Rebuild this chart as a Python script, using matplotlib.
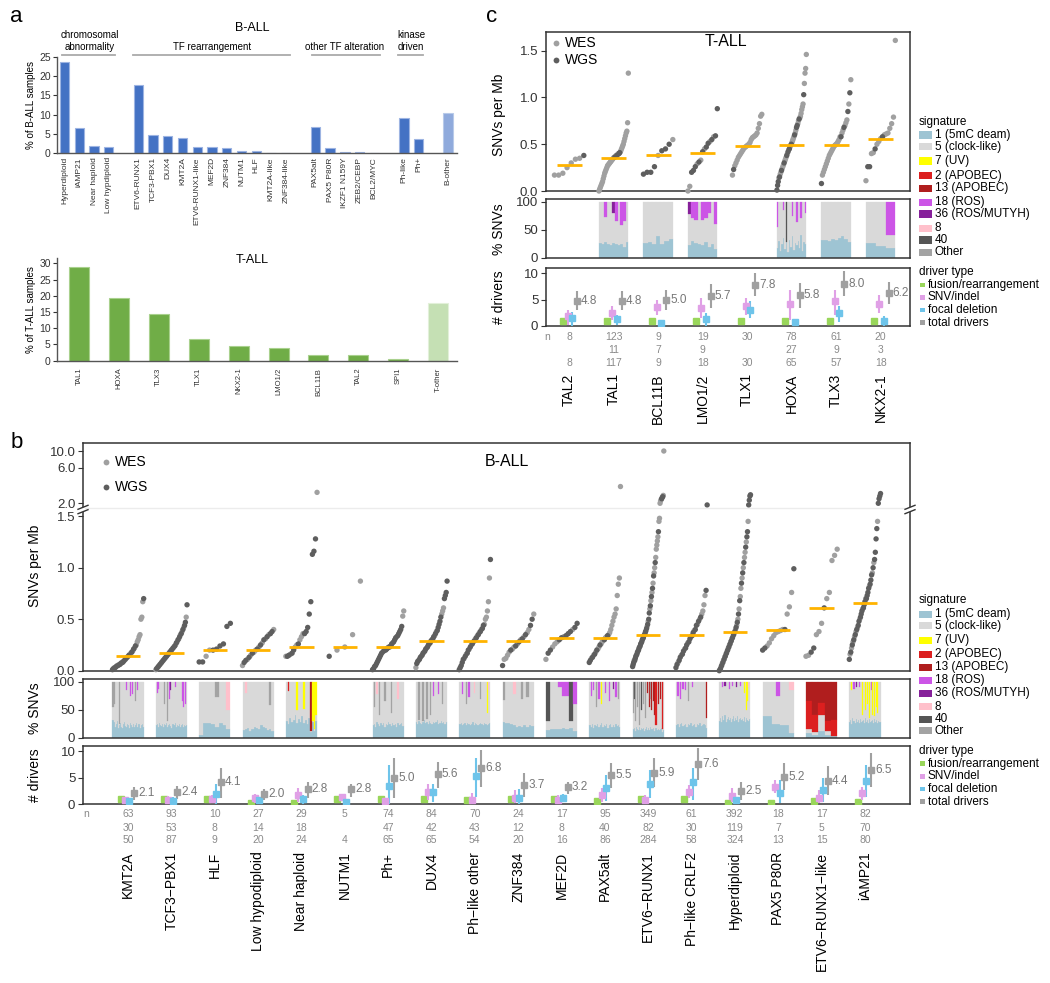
import numpy as np
import matplotlib
matplotlib.use("Agg")
import matplotlib.pyplot as plt
from matplotlib.lines import Line2D
from matplotlib.patches import Rectangle
from matplotlib.ticker import NullLocator

plt.rcParams['font.family'] = ['Liberation Sans', 'DejaVu Sans']
plt.rcParams['axes.linewidth'] = 1.0
plt.rcParams['axes.edgecolor'] = '#333333'
plt.rcParams['xtick.color'] = '#333333'
plt.rcParams['ytick.color'] = '#333333'

# ---------------- DATA: panel a ----------------
ball_subtypes = ['Hyperdiploid', 'iAMP21', 'Near haploid', 'Low hypdiploid',
                 'ETV6-RUNX1', 'TCF3-PBX1', 'DUX4', 'KMT2A', 'ETV6-RUNX1-like', 'MEF2D',
                 'ZNF384', 'NUTM1', 'HLF', 'KMT2A-like', 'ZNF384-like',
                 'PAX5alt', 'PAX5 P80R', 'IKZF1 N159Y', 'ZEB2/CEBP', 'BCL2/MYC',
                 'Ph-like', 'Ph+', 'B-other']
ball_pct = [23.6, 6.4, 1.9, 1.6,
            17.8, 4.8, 4.4, 3.8, 1.65, 1.6, 1.4, 0.6, 0.45, 0.05, 0.05,
            6.9, 1.2, 0.25, 0.25, 0.1,
            9.1, 3.7, 10.3]
ball_group_sizes = [4, 11, 5, 2, 1]
ball_groups = ['chromosomal\nabnormality', 'TF rearrangement', 'other TF alteration', 'kinase\ndriven']

tall_subtypes = ['TAL1', 'HOXA', 'TLX3', 'TLX1', 'NKX2-1', 'LMO1/2', 'BCL11B', 'TAL2', 'SPI1', 'T-other']
tall_pct = [29.0, 19.4, 14.3, 6.6, 4.6, 4.0, 1.85, 1.65, 0.4, 17.7]

# ---------------- DATA: panel b (B-ALL) ----------------
b_names = ['KMT2A', 'TCF3\u2212PBX1', 'HLF', 'Low hypodiploid', 'Near haploid', 'NUTM1', 'Ph+',
           'DUX4', 'Ph\u2212like other', 'ZNF384', 'MEF2D', 'PAX5alt', 'ETV6\u2212RUNX1',
           'Ph\u2212like CRLF2', 'Hyperdiploid', 'PAX5 P80R', 'ETV6\u2212RUNX1\u2212like', 'iAMP21']
b_n_total = ['63', '93', '10', '27', '29', '5', '74', '84', '70', '24', '17', '95', '349', '61', '392', '18', '17', '82']
b_n_wgs = ['30', '53', '8', '14', '18', '', '47', '42', '43', '12', '8', '40', '82', '30', '119', '7', '5', '70']
b_n_drv = ['50', '87', '9', '20', '24', '4', '65', '65', '54', '20', '16', '86', '284', '58', '324', '13', '15', '80']
b_median = [0.14, 0.17, 0.20, 0.20, 0.23, 0.23, 0.23, 0.29, 0.29, 0.29, 0.32, 0.32, 0.35, 0.35, 0.38, 0.40, 0.61, 0.66]

b_wes = [
    [0.03, 0.05, 0.06, 0.08, 0.10, 0.12, 0.14, 0.16, 0.17, 0.19, 0.22, 0.25, 0.28, 0.30, 0.33, 0.35, 0.50, 0.52, 0.67],
    [0.01, 0.03, 0.05, 0.07, 0.09, 0.11, 0.13, 0.15, 0.17, 0.19, 0.21, 0.23, 0.25, 0.28, 0.31, 0.35, 0.38, 0.42, 0.52],
    [0.14, 0.20],
    [0.05, 0.11, 0.15, 0.18, 0.20, 0.23, 0.27, 0.31, 0.35, 0.40],
    [0.14, 0.16, 0.23, 0.25, 0.30, 0.33, 0.36, 2.8],
    [0.20, 0.23, 0.35, 0.87],
    [0.18, 0.20, 0.23, 0.27, 0.33, 0.53, 0.58],
    [0.03, 0.10, 0.14, 0.18, 0.22, 0.26, 0.30, 0.34, 0.38, 0.55, 0.58, 0.61],
    [0.12, 0.16, 0.21, 0.25, 0.28, 0.31, 0.34, 0.37, 0.40, 0.45, 0.50, 0.52, 0.58, 0.67, 0.90],
    [0.11, 0.12, 0.15, 0.18, 0.21, 0.23, 0.26, 0.30, 0.33, 0.37, 0.40, 0.55],
    [0.11, 0.23, 0.26, 0.28, 0.33, 0.40],
    [0.12, 0.15, 0.18, 0.21, 0.23, 0.26, 0.28, 0.30, 0.32, 0.33, 0.35, 0.37, 0.40, 0.44, 0.48, 0.52, 0.55, 0.60, 0.73, 0.84, 0.90, 3.35],
    [0.10, 0.15, 0.19, 0.23, 0.27, 0.31, 0.35, 0.39, 0.43, 0.48, 0.60, 0.68, 0.76, 0.85, 0.95, 1.00, 1.10, 1.18, 1.22, 1.26, 1.30, 1.45, 1.48, 2.0, 2.15, 2.25, 2.4, 2.55, 10.0],
    [0.08, 0.15, 0.21, 0.27, 0.33, 0.39, 0.45, 0.50, 0.55, 0.58, 0.64, 0.73],
    [0.01, 0.04, 0.07, 0.10, 0.13, 0.16, 0.19, 0.22, 0.25, 0.28, 0.31, 0.34, 0.37, 0.40, 0.44, 0.50, 0.60, 0.72, 0.80, 0.90, 1.00, 1.10, 1.15, 1.25, 1.45],
    [0.24, 0.27, 0.31, 0.34, 0.37, 0.38, 0.39, 0.40, 0.55, 0.62, 0.76],
    [0.14, 0.15, 0.35, 0.38, 0.46, 0.70, 0.76, 1.07, 1.12, 1.18],
    [0.16, 0.22, 0.28, 0.33, 0.38, 0.42, 0.50, 0.60, 0.70, 0.82, 0.95, 1.05, 1.45],
]
b_wgs = [
    [0.01, 0.02, 0.03, 0.04, 0.05, 0.06, 0.07, 0.08, 0.09, 0.11, 0.13, 0.15, 0.18, 0.21, 0.24, 0.70],
    [0.02, 0.04, 0.06, 0.08, 0.10, 0.12, 0.14, 0.16, 0.18, 0.20, 0.22, 0.24, 0.27, 0.30, 0.33, 0.36, 0.40, 0.44, 0.47, 0.64],
    [0.085, 0.085, 0.20, 0.21, 0.24, 0.26, 0.43, 0.46],
    [0.08, 0.10, 0.13, 0.17, 0.21, 0.25, 0.30, 0.33, 0.36, 0.38],
    [0.14, 0.15, 0.17, 0.20, 0.26, 0.36, 0.38, 0.42, 0.55, 0.67, 1.13, 1.16, 1.28],
    [0.14],
    [0.01, 0.02, 0.04, 0.05, 0.07, 0.09, 0.11, 0.13, 0.15, 0.17, 0.19, 0.20, 0.21, 0.22, 0.23, 0.24, 0.26, 0.28, 0.30, 0.32, 0.34, 0.36, 0.38, 0.40, 0.43],
    [0.07, 0.09, 0.11, 0.13, 0.15, 0.17, 0.19, 0.21, 0.23, 0.25, 0.27, 0.29, 0.31, 0.33, 0.36, 0.39, 0.42, 0.45, 0.48, 0.52, 0.70, 0.73, 0.76, 0.87],
    [0.01, 0.03, 0.05, 0.08, 0.11, 0.14, 0.17, 0.20, 0.23, 0.26, 0.29, 0.32, 0.35, 0.38, 0.41, 0.44, 1.08],
    [0.05, 0.20, 0.24, 0.28, 0.31, 0.35, 0.44, 0.50],
    [0.17, 0.20, 0.30, 0.32, 0.34, 0.36, 0.38, 0.42, 0.46],
    [0.08, 0.10, 0.13, 0.16, 0.20, 0.25, 0.30, 0.34],
    [0.04, 0.06, 0.08, 0.10, 0.12, 0.14, 0.16, 0.18, 0.20, 0.22, 0.24, 0.26, 0.28, 0.30, 0.32, 0.34, 0.36, 0.38, 0.41, 0.45, 0.50, 0.56, 0.63, 0.72, 0.80, 0.92, 1.05, 1.35, 2.3, 2.45],
    [0.03, 0.06, 0.10, 0.13, 0.16, 0.19, 0.22, 0.25, 0.28, 0.31, 0.34, 0.37, 0.40, 0.44, 0.48, 0.52, 0.78, 1.9],
    [0.00, 0.02, 0.05, 0.08, 0.11, 0.14, 0.17, 0.20, 0.23, 0.26, 0.29, 0.32, 0.35, 0.38, 0.42, 0.47, 0.55, 0.68, 0.85, 0.95, 1.05, 1.20, 1.30, 1.35, 1.9, 2.2, 2.5, 2.6],
    [0.20, 0.22, 0.40, 0.99],
    [0.18, 0.22, 0.61],
    [0.11, 0.18, 0.25, 0.30, 0.35, 0.40, 0.44, 0.48, 0.52, 0.55, 0.58, 0.61, 0.64, 0.67, 0.70, 0.73, 0.76, 0.80, 0.84, 0.88, 0.93, 1.00, 1.08, 1.15, 1.28, 1.38, 2.0, 2.3, 2.5, 2.7],
]

# signature 1 (5mC deamination) share per WGS sample bar; other signatures listed as (bar, signature, %)
b_sig1 = [
    [32, 28, 20, 24, 30, 18, 22, 26, 20, 17, 24, 28, 21, 19, 25, 22, 18, 26, 23, 20, 24, 19, 22, 27, 20, 24, 18, 22, 25, 20],
    [22, 24, 20, 26, 23, 21, 25, 19, 24, 22, 27, 20, 23, 25, 21, 18, 24, 22, 26, 20, 23, 21, 25, 19, 22, 24, 20, 23, 21, 22],
    [5, 26, 27, 25, 20, 26, 22, 15],
    [14, 15, 18, 12, 16, 20, 18, 15, 22, 19, 17, 14, 16, 12],
    [30, 25, 35, 28, 32, 40, 27, 33, 29, 38, 26, 31, 24, 36, 10, 28, 12, 30],
    [],
    [22, 25, 20, 28, 24, 21, 26, 23, 27, 20, 25, 22, 28, 24, 21, 26, 23, 25, 20, 27, 22, 24, 26, 21],
    [28, 25, 30, 27, 24, 29, 31, 26, 28, 25, 30, 27, 24, 29, 26, 28, 31, 25, 27, 30, 26, 28, 24, 29],
    [24, 26, 22, 25, 27, 23, 26, 24, 22, 25, 28, 23, 26, 24, 22, 25, 27, 24, 23, 26, 25, 22, 24, 26],
    [28, 27, 26, 24, 22, 20, 21, 19, 22, 20, 23, 21],
    [14, 15, 16, 15, 17, 16, 18, 12],
    [22, 20, 25, 18, 23, 21, 24, 19, 22, 26, 20, 23, 21, 25, 18, 22, 24, 20, 23, 19, 25, 21, 22, 20],
    [15, 18, 12, 20, 16, 14, 19, 13, 17, 15, 18, 12, 16, 20, 14, 17, 13, 19, 15, 16, 18, 12, 17, 14, 16, 13, 15, 18, 11, 14],
    [22, 25, 20, 24, 26, 21, 23, 25, 20, 24, 22, 26, 21, 23, 25, 20, 24, 22, 26, 21, 23, 25, 22, 18],
    [30, 35, 28, 38, 32, 40, 29, 34, 37, 31, 36, 28, 33, 39, 30, 35, 32, 38, 29, 34, 36, 31, 33, 30, 37, 28, 35, 32, 30, 34],
    [38, 38, 25, 24, 22, 22, 8],
    [8, 5, 12, 5, 3],
    [28, 32, 25, 35, 30, 27, 33, 29, 31, 26, 34, 28, 30, 32, 27, 35, 29, 31, 26, 33, 28, 30, 32, 27, 34, 29, 31, 26, 30, 28],
]
b_sig_other = [
    [(0, 'Other', 45), (1, 'Other', 40), (6, 'Other', 75), (13, '18', 15), (17, '18', 25), (19, '18', 22), (22, 'Other', 35), (24, '18', 15)],
    [(1, '18', 20), (2, '18', 12), (8, 'Other', 40), (11, 'Other', 70), (13, '18', 30), (14, '36', 15), (18, '18', 10), (25, '18', 35), (26, '18', 45), (28, '18', 40)],
    [(4, 'Other', 28), (7, '8', 50)],
    [(1, '8', 20), (12, 'Other', 42)],
    [(1, '2', 17), (6, '7', 50), (10, '7', 48), (14, '13', 88), (15, '7', 70), (16, '7', 85), (17, '7', 60)],
    [],
    [(1, 'Other', 45), (3, '8', 22), (5, 'Other', 60), (9, 'Other', 35), (14, 'Other', 55), (19, '8', 30)],
    [(2, 'Other', 68), (5, 'Other', 70), (8, 'Other', 66), (11, 'Other', 60), (13, '18', 25), (17, '18', 22), (20, 'Other', 40)],
    [(2, '18', 22), (5, 'Other', 40), (7, '18', 28), (11, '8', 20), (16, 'Other', 30), (21, '7', 55), (22, '8', 15)],
    [(0, 'Other', 32), (4, '8', 22), (7, 'Other', 30), (9, 'Other', 28)],
    [(0, '40', 70), (3, '18', 10), (4, '18', 26), (5, '18', 26), (6, '40', 70), (7, '18', 40)],
    [(1, '18', 25), (3, '18', 15), (5, 'Other', 45), (7, '18', 30), (9, '7', 40), (12, '18', 20), (15, '18', 35), (18, '36', 12), (20, '18', 28), (22, 'Other', 30)],
    [(0, 'Other', 55), (1, '40', 30), (2, 'Other', 70), (4, 'Other', 45), (6, 'Other', 78), (8, '40', 50), (10, 'Other', 40), (12, 'Other', 65),
     (14, '13', 20), (16, '13', 45), (17, 'Other', 30), (18, '13', 50), (20, '13', 35), (21, '13', 60), (22, '2', 78), (24, '13', 40), (26, '13', 30), (28, '2', 85)],
    [(1, '18', 25), (3, '18', 30), (5, '18', 12), (7, '18', 15), (9, 'Other', 35), (12, '18', 10), (23, '13', 65)],
    [(3, '18', 10), (5, '36', 8), (9, '18', 12), (12, '18', 8), (16, '36', 10), (20, '18', 8), (24, '7', 20), (26, '7', 50), (27, '7', 35), (28, '8', 10)],
    [(3, '18', 26), (6, '8', 15)],
    [(0, '13', 35), (0, '2', 50), (1, '13', 60), (1, '2', 30), (2, '13', 38), (2, '2', 22), (3, '13', 70), (3, '2', 18), (4, '13', 68), (4, '2', 29)],
    [(2, '7', 15), (4, '18', 12), (6, '36', 10), (9, '18', 10), (12, '7', 60), (15, '7', 50), (17, '7', 40), (19, '7', 65), (21, '18', 15),
     (22, '7', 60), (24, '7', 62), (26, '7', 45), (27, '7', 55)],
]

b_fus = [0.95, 0.95, 0.95, 0.2, 0.2, 0.95, 0.95, 0.95, 0.8, 0.95, 1.0, 0.7, 0.95, 1.0, 0.2, 0.2, 0.7, 0.4]
b_snv = [0.8, 0.9, 1.0, 1.1, 1.7, 1.4, 0.6, 2.4, 0.9, 1.25, 0.9, 1.8, 0.8, 2.4, 1.6, 3.3, 1.25, 2.1]
b_snv_lo = [0.2, 0.3, 0.2, 0.3, 0.5, 0.8, 0.0, 0.8, 0.0, 0.2, 0.2, 0.5, 0.0, 1.1, 0.5, 2.1, 0.2, 0.8]
b_snv_hi = [1.4, 1.5, 1.8, 1.9, 3.0, 2.0, 1.1, 3.9, 2.1, 2.7, 1.75, 3.0, 1.75, 3.6, 3.0, 4.6, 2.7, 3.3]
b_del = [0.6, 0.7, 1.9, 0.8, 1.0, 0.5, 3.4, 2.4, 5.3, 1.25, 1.25, 3.0, 3.9, 4.25, 0.8, 2.06, 2.7, 4.4]
b_del_lo = [0.0, 0.0, 0.0, 0.2, 0.0, 0.0, 0.0, 0.5, 1.4, 0.0, 0.5, 0.7, 1.1, 0.8, 0.0, 0.2, 0.5, 1.4]
b_del_hi = [1.1, 1.4, 3.9, 1.4, 1.75, 1.0, 7.4, 3.9, 8.75, 2.8, 1.9, 5.5, 6.4, 6.75, 1.4, 4.6, 4.9, 7.4]
b_tot = [2.1, 2.4, 4.1, 2.0, 2.8, 2.8, 5.0, 5.6, 6.8, 3.7, 3.2, 5.5, 5.9, 7.6, 2.5, 5.2, 4.4, 6.5]
b_tot_lo = [0.8, 1.0, 1.25, 0.8, 1.1, 1.4, 1.25, 3.0, 3.3, 1.4, 1.9, 3.1, 3.2, 4.6, 0.8, 2.7, 1.75, 3.2]
b_tot_hi = [3.2, 3.5, 6.75, 2.8, 4.1, 3.75, 8.6, 8.0, 10.2, 5.8, 4.25, 7.8, 8.6, 10.5, 4.25, 7.7, 7.1, 9.6]

# ---------------- DATA: panel c (T-ALL) ----------------
c_names = ['TAL2', 'TAL1', 'BCL11B', 'LMO1/2', 'TLX1', 'HOXA', 'TLX3', 'NKX2-1']
c_n_total = ['8', '123', '9', '19', '30', '78', '61', '20']
c_n_wgs = ['', '11', '7', '9', '', '27', '9', '3']
c_n_drv = ['8', '117', '9', '18', '30', '65', '57', '18']
c_median = [0.28, 0.35, 0.38, 0.41, 0.48, 0.495, 0.495, 0.556]

c_wes = [
    [0.17, 0.17, 0.19, 0.25, 0.30, 0.34, 0.35],
    [0.00, 0.02, 0.04, 0.06, 0.08, 0.10, 0.13, 0.16, 0.19, 0.21, 0.23, 0.25, 0.27, 0.28, 0.29, 0.30, 0.31, 0.32, 0.33, 0.34,
     0.35, 0.36, 0.37, 0.38, 0.39, 0.40, 0.42, 0.44, 0.46, 0.48, 0.50, 0.53, 0.56, 0.59, 0.62, 0.64, 0.73, 1.26],
    [0.38, 0.55],
    [0.00, 0.05, 0.29, 0.33, 0.45, 0.53, 0.58],
    [0.17, 0.27, 0.30, 0.33, 0.36, 0.38, 0.40, 0.42, 0.44, 0.46, 0.47, 0.48, 0.49, 0.50, 0.52, 0.55, 0.57, 0.58, 0.59, 0.60,
     0.62, 0.67, 0.72, 0.80, 0.82],
    [0.14, 0.18, 0.20, 0.24, 0.26, 0.28, 0.32, 0.34, 0.36, 0.40, 0.44, 0.47, 0.49, 0.52, 0.54, 0.56, 0.58, 0.62, 0.65, 0.72,
     0.75, 0.78, 0.80, 0.83, 0.87, 0.90, 0.93, 1.15, 1.26, 1.31, 1.46],
    [0.17, 0.20, 0.23, 0.26, 0.29, 0.32, 0.35, 0.38, 0.40, 0.42, 0.44, 0.46, 0.48, 0.49, 0.50, 0.51, 0.53, 0.55, 0.58, 0.62,
     0.65, 0.70, 0.73, 0.76, 0.93, 1.19],
    [0.11, 0.40, 0.41, 0.50, 0.53, 0.56, 0.60, 0.61, 0.62, 0.67, 0.72, 0.79, 1.61],
]
c_wgs = [
    [0.38],
    [0.36, 0.38, 0.40, 0.41],
    [0.18, 0.20, 0.20, 0.26, 0.43, 0.45, 0.50],
    [0.20, 0.22, 0.26, 0.31, 0.42, 0.47, 0.51, 0.55, 0.59, 0.88],
    [0.23],
    [0.01, 0.06, 0.10, 0.15, 0.22, 0.30, 0.38, 0.42, 0.45, 0.50, 0.60, 0.68, 0.70, 0.77, 1.03],
    [0.08, 0.58, 0.68, 0.85, 1.05],
    [0.26, 0.26, 0.45, 0.58],
]
c_sig1 = [
    [],
    [26, 24, 28, 25, 22, 26, 24, 22, 25, 20, 28],
    [27, 28, 25, 38, 25, 30, 33],
    [22, 30, 26, 24, 22, 28, 20, 25, 15],
    [],
    [18, 30, 12, 25, 35, 15, 28, 10, 32, 20, 38, 14, 26, 22, 30, 18, 40, 12, 28, 24],
    [32, 31, 30, 33, 32, 35, 38, 34, 28],
    [27, 21, 17],
]
c_sig_other = [
    [],
    [(2, '18', 28), (5, '36', 20), (6, '18', 35), (8, '18', 42), (9, '18', 34)],
    [],
    [(0, '36', 23), (1, '18', 30), (2, '18', 32), (4, '18', 32), (5, '18', 30), (6, '18', 20), (8, '18', 40)],
    [],
    [(0, '18', 46), (4, '18', 15), (6, '40', 72), (10, '18', 25), (13, '18', 37), (16, '18', 30), (19, '18', 20)],
    [],
    [(2, '18', 59)],
]
c_fus = [1.0, 1.0, 1.0, 1.0, 1.0, 1.0, 1.0, 1.0]
c_snv = [1.9, 2.4, 3.6, 3.4, 3.8, 4.2, 4.7, 4.2]
c_snv_lo = [0.2, 1.2, 2.1, 1.5, 2.1, 1.2, 2.1, 2.4]
c_snv_hi = [3.1, 3.85, 5.0, 5.3, 5.3, 6.9, 6.9, 5.8]
c_del = [1.6, 1.3, 0.6, 1.3, 3.1, 0.7, 2.4, 1.0]
c_del_lo = [0.0, 0.2, 0.0, 0.0, 1.5, 0.0, 0.8, 0.0]
c_del_hi = [2.75, 2.1, 1.1, 2.4, 4.7, 1.4, 3.85, 1.9]
c_tot = [4.8, 4.8, 5.0, 5.7, 7.8, 5.8, 8.0, 6.2]
c_tot_lo = [3.1, 3.1, 3.1, 3.4, 5.6, 3.4, 5.6, 4.2]
c_tot_hi = [6.6, 6.7, 6.9, 7.9, 10.1, 8.2, 10.4, 8.3]

sig_labels = ['1 (5mC deam)', '5 (clock-like)', '7 (UV)', '2 (APOBEC)', '13 (APOBEC)',
              '18 (ROS)', '36 (ROS/MUTYH)', '8', '40', 'Other']
sig_keys = ['1', '5', '7', '2', '13', '18', '36', '8', '40', 'Other']
driver_labels = ['fusion/rearrangement', 'SNV/indel', 'focal deletion', 'total drivers']

# ---------------- STYLE ----------------
sig_colors = {'1': '#9ec4d3', '5': '#d9d9d9', '7': '#ffff00', '2': '#dc1f1f', '13': '#b01e1e',
              '18': '#cc55e6', '36': '#86209a', '8': '#ffc0cb', '40': '#555555', 'Other': '#a3a3a3'}
drv_colors = ['#99d65a', '#e0a0e6', '#6ec4ea', '#a0a0a0']
WES_C, WGS_C = '#a0a0a0', '#5e5e5e'
MED_C = '#ffb300'
NGRAY = '#8a8a8a'

W, H = 1050, 983
fig = plt.figure(figsize=(W / 100, H / 100), dpi=100)


def add_ax(x0, y0, x1, y1):
    return fig.add_axes([x0 / W, 1 - y1 / H, (x1 - x0) / W, (y1 - y0) / H])


def ftext(x, y, s, **kw):
    return fig.text(x / W, 1 - y / H, s, **kw)


# ================= panel a: B-ALL bars =================
ax = add_ax(57, 57, 457, 153)
xpos = []
p = 0
for g in ball_group_sizes:
    for k in range(g):
        xpos.append(p)
        p += 1
    p += 1
cols = ['#4472c4'] * (len(ball_pct) - 1) + ['#8faadc']
edges = ['#9db4e2'] * (len(ball_pct) - 1) + ['#b8cae9']
ax.bar(xpos, ball_pct, width=0.63, color=cols, edgecolor=edges, linewidth=0.8)
ax.set_xlim(-0.51, 26.6)
ax.set_ylim(0, 25)
for s in ['top', 'right']:
    ax.spines[s].set_visible(False)
ax.spines['left'].set_color('#555555')
ax.spines['bottom'].set_color('#555555')
ax.set_xticks(xpos)
ax.set_xticklabels(ball_subtypes, rotation=90, fontsize=6)
ax.tick_params(axis='x', length=0, pad=3)
ax.set_yticks([0, 5, 10, 15, 20, 25])
ax.tick_params(axis='y', labelsize=7.5, length=3, pad=1.5)
ax.set_ylabel('% of B-ALL samples', fontsize=7, labelpad=2)
line_spans = [(-0.17, 3.42), (4.64, 15.3), (16.8, 21.4), (22.6, 24.3)]
text_x = [1.73, 10.0, 19.0, 23.5]
for (a0, a1), tx, lab in zip(line_spans, text_x, ball_groups):
    ax.plot([a0, a1], [25.5, 25.5], color='#aaaaaa', lw=1.3, clip_on=False)
    ax.text(tx, 26.3, lab, ha='center', va='bottom', fontsize=7, linespacing=1.3)
ftext(252, 28, 'B-ALL', ha='center', va='center', fontsize=9)

# ================= panel a: T-ALL bars =================
ax = add_ax(57, 258.4, 457, 360.7)
tx = np.arange(len(tall_pct))
cols = ['#70ad47'] * (len(tall_pct) - 1) + ['#c5e0b4']
edges = ['#a9d18e'] * (len(tall_pct) - 1) + ['#e2f0d9']
ax.bar(tx, tall_pct, width=0.5, color=cols, edgecolor=edges, linewidth=0.8)
ax.set_xlim(-0.55, 9.47)
ax.set_ylim(0, 31.5)
for s in ['top', 'right']:
    ax.spines[s].set_visible(False)
ax.spines['left'].set_color('#555555')
ax.spines['bottom'].set_color('#555555')
ax.set_xticks(tx)
ax.set_xticklabels(tall_subtypes, rotation=90, fontsize=5.5)
ax.tick_params(axis='x', length=0, pad=5)
ax.set_yticks([0, 5, 10, 15, 20, 25, 30])
ax.tick_params(axis='y', labelsize=7.5, length=3, pad=1.5)
ax.set_ylabel('% of T-ALL samples', fontsize=7, labelpad=2)
ftext(252, 260, 'T-ALL', ha='center', va='center', fontsize=9)


# ================= helpers for b and c =================
def draw_scatter(axes_list, wes, wgs, medians, spread=0.36, half=0.28):
    for i, (we, wg) in enumerate(zip(wes, wgs)):
        v = np.array(list(we) + list(wg), float)
        k = np.array([0] * len(we) + [1] * len(wg))
        order = np.argsort(v, kind='stable')
        v, k = v[order], k[order]
        n = len(v)
        xs = i + (np.linspace(-spread, spread, n) if n > 1 else np.zeros(1))
        for axx, lo, hi in axes_list:
            m = (v >= lo) & (v < hi)
            for kind, col in ((0, WES_C), (1, WGS_C)):
                mm = m & (k == kind)
                if mm.any():
                    axx.scatter(xs[mm], v[mm], s=15, color=col, edgecolors='none', zorder=3, clip_on=False)
        axes_list[0][0].plot([i - half, i + half], [medians[i], medians[i]], color=MED_C, lw=2.0,
                             zorder=5, solid_capstyle='butt')


def draw_sig(axx, sig1, others, width):
    for i, (s1, tops) in enumerate(zip(sig1, others)):
        nb = len(s1)
        if nb == 0:
            continue
        bw = width / nb
        x = i - width / 2 + bw * (np.arange(nb) + 0.5)
        s1 = np.array(s1, float)
        topsum = np.zeros(nb)
        for (b, c, f) in tops:
            topsum[b] += f
        clock = np.clip(100 - s1 - topsum, 0, None)
        axx.bar(x, s1, width=bw, color=sig_colors['1'], edgecolor=sig_colors['1'], linewidth=0.2)
        axx.bar(x, clock, bottom=s1, width=bw, color=sig_colors['5'], edgecolor=sig_colors['5'], linewidth=0.2)
        cur = np.full(nb, 100.0)
        for (b, c, f) in tops:
            axx.bar(x[b], f, bottom=cur[b] - f, width=bw, color=sig_colors[c], edgecolor=sig_colors[c], linewidth=0.2)
            cur[b] -= f


def draw_drivers(axx, fus, snv, snv_lo, snv_hi, dl, dl_lo, dl_hi, tot, tot_lo, tot_hi, offs, toff):
    x = np.arange(len(fus))
    axx.plot(x + offs[0], fus, 's', ms=4.5, color=drv_colors[0], zorder=3)
    for j, (mv, lo, hi) in enumerate(((snv, snv_lo, snv_hi), (dl, dl_lo, dl_hi), (tot, tot_lo, tot_hi)), start=1):
        mv, lo, hi = np.array(mv), np.array(lo), np.array(hi)
        axx.errorbar(x + offs[j], mv, yerr=[mv - lo, hi - mv], fmt='s', ms=4.5, color=drv_colors[j],
                     ecolor=drv_colors[j], elinewidth=1.5, capsize=0, zorder=3)
    for xi, t in zip(x, tot):
        axx.text(xi + toff, t, f'{t:.1f}', fontsize=8.5, color='#777777', va='center', ha='left')


def n_rows(axx, bottom_px, height_px, rows_px, cols, label_x_px, label_top_px, names):
    tr = axx.get_xaxis_transform()
    for ypx, vals in zip(rows_px, cols):
        for i, s in enumerate(vals):
            if s:
                axx.text(i, (bottom_px - ypx) / height_px, s, transform=tr, ha='center', va='center',
                         fontsize=7.5, color=NGRAY)
    ftext(label_x_px, rows_px[0], 'n', ha='center', va='center', fontsize=7.5, color=NGRAY)
    for i, s in enumerate(names):
        axx.text(i, (bottom_px - label_top_px) / height_px, s, transform=tr, rotation=90,
                 ha='center', va='top', fontsize=10)


def style_box(axx, fs):
    axx.set_xticks([])
    axx.tick_params(axis='y', labelsize=fs, length=3.5, pad=2)
    for s in axx.spines.values():
        s.set_linewidth(1.1)


def sig_legend(title_y, ys):
    ftext(919, title_y, 'signature', fontsize=8.5, va='center', ha='left')
    for key, lab, y in zip(sig_keys, sig_labels, ys):
        fig.add_artist(Rectangle((919 / W, 1 - (y + 3.5) / H), 12.5 / W, 7 / H,
                                 transform=fig.transFigure, color=sig_colors[key], lw=0))
        ftext(935, y, lab, fontsize=8.5, va='center', ha='left')


def drv_legend(title_y, ys):
    ftext(919, title_y, 'driver type', fontsize=8.5, va='center', ha='left')
    for col, lab, y in zip(drv_colors, driver_labels, ys):
        fig.add_artist(Rectangle((920 / W, 1 - (y + 2.3) / H), 4.6 / W, 4.6 / H,
                                 transform=fig.transFigure, color=col, lw=0))
        ftext(928, y, lab, fontsize=8.5, va='center', ha='left')


def wes_wgs_legend(x, y1, y2, fs):
    for y, col, lab in ((y1, WES_C, 'WES'), (y2, WGS_C, 'WGS')):
        fig.add_artist(Line2D([x / W], [1 - y / H], marker='o', ms=4.2, color=col, mec='none',
                              linestyle='none', transform=fig.transFigure))
        ftext(x + 9, y, lab, fontsize=fs, va='center', ha='left')


# ================= panel c =================
cx = (-0.52, 7.66)
ax_cs = add_ax(546, 32, 910, 191)
ax_cs.set_xlim(*cx)
ax_cs.set_ylim(0, 1.70)
ax_cs.set_yticks([0, 0.5, 1.0, 1.5])
ax_cs.set_yticklabels(['0.0', '0.5', '1.0', '1.5'])
style_box(ax_cs, 9.5)
draw_scatter([(ax_cs, -1, 99)], c_wes, c_wgs, c_median, spread=0.33, half=0.28)
ftext(726, 42, 'T-ALL', ha='center', va='center', fontsize=11.5)
wes_wgs_legend(556, 43, 60, 10)

ax_cg = add_ax(546, 199.3, 910, 258.3)
ax_cg.set_xlim(*cx)
ax_cg.set_ylim(-1, 104)
ax_cg.set_yticks([0, 50, 100])
style_box(ax_cg, 9.5)
draw_sig(ax_cg, c_sig1, c_sig_other, 0.66)

ax_cd = add_ax(546, 267.7, 910, 326)
ax_cd.set_xlim(*cx)
ax_cd.set_ylim(0, 11.06)
ax_cd.set_yticks([0, 5, 10])
style_box(ax_cd, 9.5)
draw_drivers(ax_cd, c_fus, c_snv, c_snv_lo, c_snv_hi, c_del, c_del_lo, c_del_hi,
             c_tot, c_tot_lo, c_tot_hi, offs=[-0.14, -0.03, 0.07, 0.18], toff=0.27)
n_rows(ax_cd, 326, 326 - 267.7, [337, 350.3, 363], [c_n_total, c_n_wgs, c_n_drv], 547, 373.3, c_names)

ftext(499, 115, 'SNVs per Mb', rotation=90, ha='center', va='center', fontsize=10)
ftext(499, 229, '% SNVs', rotation=90, ha='center', va='center', fontsize=10)
ftext(499, 297, '# drivers', rotation=90, ha='center', va='center', fontsize=10)

sig_legend(121.7, [135, 146.7, 161, 175.7, 188.3, 202.3, 214, 228.3, 240, 252.3])
drv_legend(272.3, [285, 297.3, 310, 322.7])

# ================= panel b =================
bx = (-1.04, 18.04)
LO_MAX = 1.58
ax_bu = add_ax(83, 443, 910, 508)
ax_bl = add_ax(83, 508, 910, 670.7)
ax_bu.set_yscale('log')
ax_bu.set_xlim(*bx)
ax_bu.set_ylim(1.73, 12.8)
ax_bu.set_yticks([2, 6, 10])
ax_bu.set_yticklabels(['2.0', '6.0', '10.0'])
ax_bu.yaxis.set_minor_locator(NullLocator())
style_box(ax_bu, 9.5)
ax_bu.spines['bottom'].set_visible(False)
ax_bl.set_xlim(*bx)
ax_bl.set_ylim(0, LO_MAX)
ax_bl.set_yticks([0, 0.5, 1.0, 1.5])
ax_bl.set_yticklabels(['0.0', '0.5', '1.0', '1.5'])
style_box(ax_bl, 9.5)
ax_bl.spines['top'].set_color('#ececec')
ax_bl.spines['top'].set_linewidth(1.0)
draw_scatter([(ax_bl, -1, LO_MAX), (ax_bu, LO_MAX, 99)], b_wes, b_wgs, b_median, spread=0.36, half=0.28)
ftext(507, 462, 'B-ALL', ha='center', va='center', fontsize=11.5)
wes_wgs_legend(106, 461.5, 487, 10)

# axis break marks
for xb in (83, 910):
    fig.add_artist(Rectangle(((xb - 2) / W, 1 - 512 / H), 4 / W, 5 / H, transform=fig.transFigure,
                             color='white', lw=0, zorder=10))
    for dy in (-2.2, 2.2):
        yc = 509.5 + dy
        fig.add_artist(Line2D([(xb - 5) / W, (xb + 5) / W], [1 - (yc + 2) / H, 1 - (yc - 2) / H],
                              color='#333333', lw=1.0, transform=fig.transFigure, zorder=11))

ax_bg = add_ax(83, 679, 910, 738)
ax_bg.set_xlim(*bx)
ax_bg.set_ylim(-0.5, 105)
ax_bg.set_yticks([0, 50, 100])
style_box(ax_bg, 9.5)
draw_sig(ax_bg, b_sig1, b_sig_other, 0.72)

ax_bd = add_ax(83, 746, 910, 804.3)
ax_bd.set_xlim(*bx)
ax_bd.set_ylim(0, 10.94)
ax_bd.set_yticks([0, 5, 10])
style_box(ax_bd, 9.5)
draw_drivers(ax_bd, b_fus, b_snv, b_snv_lo, b_snv_hi, b_del, b_del_lo, b_del_hi,
             b_tot, b_tot_lo, b_tot_hi, offs=[-0.17, -0.07, 0.03, 0.14], toff=0.24)
n_rows(ax_bd, 804.3, 804.3 - 746, [814.3, 827.7, 840.3], [b_n_total, b_n_wgs, b_n_drv], 86, 851.7, b_names)

ftext(35, 566, 'SNVs per Mb', rotation=90, ha='center', va='center', fontsize=10)
ftext(35, 708, '% SNVs', rotation=90, ha='center', va='center', fontsize=10)
ftext(35, 775, '# drivers', rotation=90, ha='center', va='center', fontsize=10)

sig_legend(600, [614.3, 625.7, 640, 654.3, 667.3, 680, 693.3, 706.7, 719, 730.7])
drv_legend(750.7, [763.7, 776.3, 789, 801.7])

# panel letters
ftext(16, 17, 'a', ha='center', va='center', fontsize=16)
ftext(17, 443, 'b', ha='center', va='center', fontsize=16)
ftext(492, 17, 'c', ha='center', va='center', fontsize=16)

fig.savefig('out.png', dpi=100)
